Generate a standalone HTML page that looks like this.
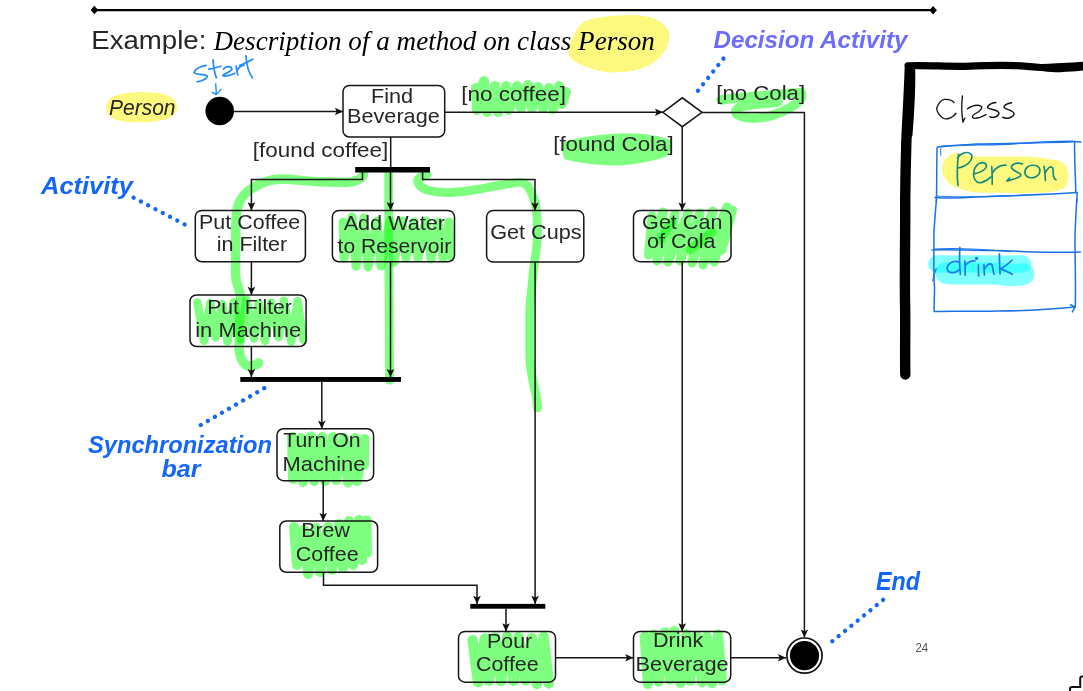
<!DOCTYPE html>
<html lang="en">
<head>
<meta charset="utf-8">
<title>Activity Diagram Example</title>
<style>
html,body{margin:0;padding:0;background:#fff;}
body{width:1083px;height:691px;overflow:hidden;font-family:"Liberation Sans",sans-serif;}
svg{display:block;position:absolute;left:0;top:0;will-change:transform;}
.t{font-family:"Liberation Sans",sans-serif;fill:#262626;}
.ti{font-family:"Liberation Sans",sans-serif;font-style:italic;fill:#262626;}
.ts{font-family:"Liberation Serif",serif;font-style:italic;fill:#000;}
.hw{font-family:"Liberation Sans",sans-serif;font-style:italic;font-weight:bold;}
.bx{fill:none;stroke:#161616;stroke-width:1.5;}
.ln{fill:none;stroke:#161616;stroke-width:1.5;stroke-linejoin:miter;}
.ah{fill:#111;stroke:none;}
.bar{fill:#000;}
.hl{fill:none;stroke:#00ff00;stroke-opacity:.5;stroke-linecap:round;stroke-linejoin:round;}
.dot{fill:none;stroke:#1466f5;stroke-linecap:round;}
.pen{fill:none;stroke-linecap:round;stroke-linejoin:round;}
</style>
</head>
<body>
<svg width="1083" height="691" viewBox="0 0 1083 691">
<path d="M568.2 52.7 C568.5 47 570.5 42 572.9 37.6 C575 32 577 28 580.4 24.5 C585 20.5 590 19 596.4 17.9 C608 16 620 15.2 634 15 C643 15.3 650 17 656.6 19.7 C663 23 667 27 668.8 32 C670 36.5 669.5 41 667.9 45.1 C665.5 51 661.5 56 656.6 60.2 C650 65.5 642 68.5 634 70.5 C626 72 619 72.4 611.5 72.4 C603 72 596 70.5 588.9 67.7 C582 65.5 577 63 572.9 60.2 C570 58 568.5 56 568.2 52.7Z" fill="#fdf97f"/>
<path d="M106.3 108 C105.5 97 118 92.5 140 92.3 C162 91.5 177 96 177.3 106.5 C177.5 117 165 122 142 122.3 C120 123 107 119.5 106.3 108Z" fill="#fdf97f"/>
<path class="hl" stroke-width="9.5" d="M363.5 174.5 C362 179 355 182.2 345 182.4 C337 182.4 329 182 321 181.8 C305 181.5 290 178.5 276.7 179.2 C270 180 265 181.5 260.5 183.8 C254 187 249 190 245.3 193.4 C241 198 238.5 203 237.2 208.6 C236 215 235.7 222 235.7 230 L235.5 274 C236 285 241 292 241 300 C240 312 239 330 239 349 C240 358 243 364 248 366 C252 367 256 365 258.5 363"/>
<path class="hl" stroke-width="8.8" d="M388.7 173 L388.9 260 L389.6 380.2"/>
<path class="hl" stroke-width="8.8" d="M427 174.5 C422 176 417.5 178 417.6 181 C418 185 422 188 426.6 189.8 C434 192 442 192.8 451.6 192.5 C461 192 470 190.8 479.3 189.1 C489 187.3 498 185.5 507 184.2 C512 183.3 517 182.2 520.8 182.4 C524 182.8 526 184.2 527.7 186.3 C530.5 190 532.5 194.5 534 198.8 C535.5 203.5 536.4 208 536.7 212.6 C537 218 537.2 225 537.4 232 C537.6 237 537.3 241 536.8 245 C536.2 252 535.2 258 534.4 263 C533.4 270 532.6 278 532 286 C531 296 530 303 529.7 310 L529.7 355 C530 370 533 382 535.5 393 C536.5 398 537.5 403 537.5 408"/>
<path class="hl" stroke-width="9" d="M343 222 L344 258 L352 217 L356 266 L364 218 L368 267 L377 221 L381 266 L390 221 L394 262 L402 221 L406 258 L414 222 L418 258 L426 221 L431 259 L438 222 L443 258 L449 222 L450 256"/>
<path class="hl" stroke-width="8.5" d="M197.4 302.5 L204.0 340.8 L210.2 303.1 L215.6 337.4 L222.2 304.0 L227.5 341.3 L234.0 301.9 L240.8 339.7 L246.4 299.9 L253.9 338.5 L258.8 303.2 L265.0 340.8 L271.2 302.5 L278.7 337.3 L283.8 300.7 L291.2 341.6 L297.6 301.1 L303.3 339.7"/>
<path class="hl" stroke-width="10" d="M476 88 L477 110 L484 81 L487 112 L495 86 L498 112 L506 86 L509 110 L517 86 L521 108 L528 85 L532 108 L538 87 L543 108 L549 88 L553 109 L559 86 L562 104 L566 92"/>
<path d="M563 142 C575 138 600 134 623 133.2 C645 133 660 136 670.4 139.6 C672 146 670 152 666.5 156.5 C650 162 630 165 617.5 165.5 C598 165.5 578 163 564.5 159 C562 153 562 147 563 142Z" fill="#80ff80"/>
<path class="hl" stroke-width="9.5" d="M721 100 C740 97 765 96 801 92.5 C805 100 790 110 770 116 C758 119 745 119 738 115 C732 111 738 107 747 105.5 C757 104 768 103 778 102"/>
<path class="hl" stroke-width="9" d="M652 216 L648.5 255 L663 212 L657 261 L675 214 L668 262 L688 213 L680 261 L700 213 L692 263 L713 211 L703 265 L727 207 L714 262 L732.5 210 L722 250"/>
<path class="hl" stroke-width="9" d="M660 240 L672 222 M690 250 L712 232"/>
<path class="hl" stroke-width="10" d="M292 437 L293 479 L301 438 L303 482 L311 436.5 L314 481 L322 437 L325 481 L333 437 L336 480 L344 438 L348 482.5 L355 438 L357 481 L364.5 439 L364 465"/>
<path class="hl" stroke-width="10" d="M294 527 L297 565 L304 530 L308 574 L316 528 L320 572 L328 527 L332 570 L339 524 L343 568 L349 521 L353 565 L359 520 L362 560 L366.5 520.5 L367 553"/>
<path class="hl" stroke-width="10.5" d="M472.7 640.1 L478.0 682.1 L485.0 638.4 L488.9 680.7 L495.1 637.6 L501.1 681.0 L507.1 636.6 L513.6 680.9 L518.4 637.2 L525.4 680.2 L531.8 638.3 L536.9 683.8 L543.6 636.6 L548.8 683.5"/>
<path class="hl" stroke-width="10" d="M644.6 636.5 L647.8 683.9 L653.9 634.6 L658.5 681.7 L664.6 632.2 L669.9 679.8 L674.3 631.1 L680.4 682.8 L686.5 634.1 L690.1 680.7 L696.7 635.7 L702.1 682.4 L706.8 636.8 L712.1 683.1 L718.1 634.4 L722.0 680.4"/>
<line x1="94.4" y1="10.05" x2="933" y2="10.05" stroke="#000" stroke-width="2.2"/>
<polygon points="90.7,10 94.4,5.8 98.1,10 94.4,14.2" fill="#000"/>
<polygon points="929.4,10.2 933.1,6 936.9,10.2 933.1,14.4" fill="#000"/>
<text x="91.23" y="49.2" font-size="25.4" class="t" text-anchor="start" textLength="115.19" lengthAdjust="spacingAndGlyphs">Example:</text>
<text x="213.5" y="49.5" font-size="26.4" class="ts" text-anchor="start" textLength="441.42" lengthAdjust="spacingAndGlyphs">Description of a method on class Person</text>
<circle cx="219.7" cy="111" r="14.3" fill="#000"/>
<circle cx="804.5" cy="655.6" r="17.6" fill="#fff" stroke="#111" stroke-width="1.7"/>
<circle cx="804.5" cy="655.6" r="14.6" fill="#000"/>
<rect x="343" y="85.4" width="101.69999999999999" height="51.599999999999994" rx="6.5" ry="6.5" class="bx"/>
<text x="370.92" y="102.9" font-size="20.8" class="t" text-anchor="start" textLength="42.18" lengthAdjust="spacingAndGlyphs">Find</text>
<text x="347.02" y="122.8" font-size="20.8" class="t" text-anchor="start" textLength="92.74" lengthAdjust="spacingAndGlyphs">Beverage</text>
<rect x="195.3" y="210.4" width="110.09999999999997" height="51.400000000000006" rx="6.5" ry="6.5" class="bx"/>
<text x="199.04" y="228.9" font-size="20.8" class="t" text-anchor="start" textLength="101.11" lengthAdjust="spacingAndGlyphs">Put Coffee</text>
<text x="216.76" y="251.4" font-size="20.8" class="t" text-anchor="start" textLength="70.5" lengthAdjust="spacingAndGlyphs">in Filter</text>
<rect x="332.4" y="210.4" width="122.10000000000002" height="51.400000000000006" rx="6.5" ry="6.5" class="bx"/>
<text x="343.66" y="229.7" font-size="20.8" class="t" text-anchor="start" textLength="101.4" lengthAdjust="spacingAndGlyphs">Add Water</text>
<text x="337.58" y="253.3" font-size="20.8" class="t" text-anchor="start" textLength="113.67" lengthAdjust="spacingAndGlyphs">to Reservoir</text>
<rect x="486.6" y="210.6" width="97.19999999999993" height="51.50000000000003" rx="6.5" ry="6.5" class="bx"/>
<text x="490.21" y="239.1" font-size="20.8" class="t" text-anchor="start" textLength="91.37" lengthAdjust="spacingAndGlyphs">Get Cups</text>
<rect x="633.5" y="210.5" width="97.5" height="51.19999999999999" rx="6.5" ry="6.5" class="bx"/>
<text x="642.12" y="228.5" font-size="20.8" class="t" text-anchor="start" textLength="80.28" lengthAdjust="spacingAndGlyphs">Get Can</text>
<text x="647.09" y="248.3" font-size="20.8" class="t" text-anchor="start" textLength="68.41" lengthAdjust="spacingAndGlyphs">of Cola</text>
<rect x="190" y="294.9" width="116.10000000000002" height="51.60000000000002" rx="6.5" ry="6.5" class="bx"/>
<text x="207.16" y="313.9" font-size="20.8" class="t" text-anchor="start" textLength="84.69" lengthAdjust="spacingAndGlyphs">Put Filter</text>
<text x="195.23" y="336.5" font-size="20.8" class="t" text-anchor="start" textLength="106.04" lengthAdjust="spacingAndGlyphs">in Machine</text>
<rect x="277" y="428.7" width="96.60000000000002" height="52.0" rx="6.5" ry="6.5" class="bx"/>
<text x="283.33" y="447.1" font-size="20.8" class="t" text-anchor="start" textLength="77.24" lengthAdjust="spacingAndGlyphs">Turn On</text>
<text x="282.6" y="470.5" font-size="20.8" class="t" text-anchor="start" textLength="82.77" lengthAdjust="spacingAndGlyphs">Machine</text>
<rect x="279.8" y="521" width="97.80000000000001" height="51.299999999999955" rx="6.5" ry="6.5" class="bx"/>
<text x="301.25" y="536.9" font-size="20.8" class="t" text-anchor="start" textLength="48.7" lengthAdjust="spacingAndGlyphs">Brew</text>
<text x="295.82" y="560.7" font-size="20.8" class="t" text-anchor="start" textLength="62.83" lengthAdjust="spacingAndGlyphs">Coffee</text>
<rect x="458.5" y="631.4" width="97.0" height="50.80000000000007" rx="6.5" ry="6.5" class="bx"/>
<text x="487.05" y="647.8" font-size="20.8" class="t" text-anchor="start" textLength="45.11" lengthAdjust="spacingAndGlyphs">Pour</text>
<text x="475.92" y="670.7" font-size="20.8" class="t" text-anchor="start" textLength="62.83" lengthAdjust="spacingAndGlyphs">Coffee</text>
<rect x="633.5" y="631.4" width="97.20000000000005" height="50.80000000000007" rx="6.5" ry="6.5" class="bx"/>
<text x="652.93" y="646.8" font-size="20.8" class="t" text-anchor="start" textLength="50.34" lengthAdjust="spacingAndGlyphs">Drink</text>
<text x="635.62" y="670.7" font-size="20.8" class="t" text-anchor="start" textLength="92.95" lengthAdjust="spacingAndGlyphs">Beverage</text>
<text x="461.3" y="101.3" font-size="20.8" class="t" text-anchor="start" textLength="104.7" lengthAdjust="spacingAndGlyphs">[no coffee]</text>
<text x="252.81" y="157.2" font-size="20.8" class="t" text-anchor="start" textLength="135.49" lengthAdjust="spacingAndGlyphs">[found coffee]</text>
<text x="553.21" y="150.7" font-size="20.8" class="t" text-anchor="start" textLength="120.49" lengthAdjust="spacingAndGlyphs">[found Cola]</text>
<text x="716.22" y="99.6" font-size="20.8" class="t" text-anchor="start" textLength="88.87" lengthAdjust="spacingAndGlyphs">[no Cola]</text>
<text x="108.95" y="114.7" font-size="21.4" class="ti" text-anchor="start" textLength="66.6" lengthAdjust="spacingAndGlyphs">Person</text>
<text x="915.4" y="651.8" font-size="12.6" class="t" style="fill:#555" textLength="12.8" lengthAdjust="spacingAndGlyphs">24</text>
<polygon class="bx" points="662.8,112.3 682.3,97.8 702,112.3 682.3,126.7" style="fill:#fff"/>
<rect class="bar" x="355.2" y="167" width="74.8" height="5.5"/>
<rect class="bar" x="240.3" y="377" width="160.7" height="4.9"/>
<rect class="bar" x="470.3" y="603.9" width="75" height="4.8"/>
<path class="ln" d="M234 111.5H343 M444.7 112.2H663 M702 112.4H804.4V637.5 M682.2 126.7V210.5 M682.2 261.7V631.4 M390.7 137V167 M390.5 172V210 M390.5 261.5V377 M362.5 172V179.6H251.4V210 M422.6 172V179.6H535V210 M251.4 261.8V294.9 M251.4 346.5V377 M321.8 382V428.5 M323.2 480.7V521 M323.5 572.3V585.3H477V603.9 M535.1 262V603.9 M506 608.5V631.4 M555.5 657.8H633 M730.7 657.8H786"/>
<polygon class="ah" points="343.0,111.5 334.9,107.7 336.7,111.5 334.9,115.3"/>
<polygon class="ah" points="663.0,112.2 654.9,108.4 656.7,112.2 654.9,116.0"/>
<polygon class="ah" points="804.4,637.6 800.6,629.5 804.4,631.3 808.2,629.5"/>
<polygon class="ah" points="682.2,210.5 678.4,202.4 682.2,204.2 686.0,202.4"/>
<polygon class="ah" points="682.2,631.4 678.4,623.3 682.2,625.1 686.0,623.3"/>
<polygon class="ah" points="390.5,210.4 386.7,202.3 390.5,204.1 394.3,202.3"/>
<polygon class="ah" points="390.5,377.0 386.7,368.9 390.5,370.7 394.3,368.9"/>
<polygon class="ah" points="251.4,210.4 247.6,202.3 251.4,204.1 255.2,202.3"/>
<polygon class="ah" points="535.0,210.6 531.2,202.5 535.0,204.3 538.8,202.5"/>
<polygon class="ah" points="251.4,294.9 247.6,286.8 251.4,288.6 255.2,286.8"/>
<polygon class="ah" points="251.4,377.0 247.6,368.9 251.4,370.7 255.2,368.9"/>
<polygon class="ah" points="321.8,428.7 318.0,420.6 321.8,422.4 325.6,420.6"/>
<polygon class="ah" points="323.2,521.0 319.4,512.9 323.2,514.7 327.0,512.9"/>
<polygon class="ah" points="477.0,603.9 473.2,595.8 477.0,597.6 480.8,595.8"/>
<polygon class="ah" points="535.1,603.9 531.3,595.8 535.1,597.6 538.9,595.8"/>
<polygon class="ah" points="506.0,631.4 502.2,623.3 506.0,625.1 509.8,623.3"/>
<polygon class="ah" points="633.3,657.8 625.2,654.0 627.0,657.8 625.2,661.6"/>
<polygon class="ah" points="786.0,657.8 777.9,654.0 779.7,657.8 777.9,661.6"/>
<text x="41" y="194.3" font-size="24" class="hw" fill="#1466f8" text-anchor="start" textLength="92" lengthAdjust="spacingAndGlyphs">Activity</text>
<text x="713.5" y="48" font-size="24" class="hw" fill="#6c6cfd" text-anchor="start" textLength="194" lengthAdjust="spacingAndGlyphs">Decision Activity</text>
<text x="88" y="453.1" font-size="24" class="hw" fill="#1466f8" text-anchor="start" textLength="184" lengthAdjust="spacingAndGlyphs">Synchronization</text>
<text x="161.5" y="477.3" font-size="24" class="hw" fill="#1466f8" text-anchor="start" textLength="39" lengthAdjust="spacingAndGlyphs">bar</text>
<text x="876" y="589.7" font-size="26.5" class="hw" fill="#1466f8" text-anchor="start" textLength="44" lengthAdjust="spacingAndGlyphs">End</text>
<path class="dot" stroke-width="4.3" stroke-dasharray="0.01 8.214" d="M133.6 197.7 L184.65 224.43"/>
<path class="dot" stroke-width="4.3" stroke-dasharray="0.01 8.177" d="M723.4 58.6 L697.97 90.73"/>
<path class="dot" stroke-width="4.3" stroke-dasharray="0.01 8.135" d="M264.2 388.2 L200.74 425.04"/>
<path class="dot" stroke-width="4.3" stroke-dasharray="0.01 8.174" d="M883.1 599.9 L832.25 641.24"/>
<g transform="translate(170 50) scale(0.11583)" class="pen" stroke="#218cfa" stroke-width="15"><path d="M312 132C260 140 215 165 208 195C215 215 300 205 322 225C320 250 270 270 235 275"/><path d="M372 85C375 140 385 200 400 240M335 165C370 160 410 150 440 140"/><path d="M462 165C480 140 530 135 535 165C520 195 470 200 455 220C470 235 530 215 560 200"/><path d="M570 140C575 170 580 200 585 215M578 175C590 150 620 135 640 130"/><path d="M655 50C660 110 680 200 712 240M600 135C640 115 690 95 715 80"/><path d="M395 290L400 385M365 365L400 385L440 340" stroke-width="12"/></g>
<path class="pen" stroke="#000" stroke-width="10.4" d="M905.3 374.5 C904.8 350 905.6 325 905 300 C904.6 270 905.4 235 905.2 200 C905.4 180 905.8 160 906.3 143 C907.3 118 909 95 909.8 69"/>
<path class="pen" stroke="#000" stroke-width="5" d="M912.8 71 C913 90 912 110 910 135"/>
<path class="pen" stroke="#000" stroke-width="7.2" d="M908 65.8 C925 65 945 66.6 965 66.3 C985 65.5 1000 65 1015 65.6 C1030 66.2 1042 67.8 1052 68.5 C1062 69 1072 67.8 1090 66.3"/>
<path class="pen" stroke="#000" stroke-width="4" d="M1042 66 C1055 65.6 1070 64.6 1090 63.4"/>
<path transform="translate(935 140) scale(0.13665)" d="M50 215 C55 150 100 100 150 95 C200 100 250 118 300 120 C430 122 570 118 700 122 C770 128 840 140 900 150 C950 165 978 210 975 260 C972 310 960 340 950 350 C900 375 850 385 800 385 C630 390 460 388 300 385 C250 380 200 360 150 345 C100 320 55 280 50 215Z" fill="#fdf97f"/>
<path class="pen" stroke="#00ffff" stroke-opacity=".5" stroke-width="17.5" d="M937 264 C960 263.5 1000 264.5 1022.5 264"/>
<path class="pen" stroke="#00ffff" stroke-opacity=".5" stroke-width="22" d="M946.5 273 C965 274.5 990 272.5 1005 274.5 C1012 275.5 1018 275 1023.5 274"/>
<g transform="translate(935 140) scale(0.13665)" class="pen" stroke="#1a73e8" stroke-width="11"><path d="M20 52 C110 40 200 36 300 30 C430 26 570 28 700 20 C800 14 900 12 1000 10 C1030 10 1050 14 1068 14"/><path d="M30 48 C200 30 400 40 560 30 C700 18 850 22 1010 14" stroke-width="8"/><path d="M15 55 C12 150 14 300 10 454"/><path d="M42 62 C40 80 42 95 42 112" stroke-width="7"/><path d="M1022 14 C1018 100 1028 250 1030 385 M1040 385 L1038 454"/><path d="M0 420 C100 430 200 425 300 418 C420 412 520 412 640 405 C780 400 900 395 1040 385"/><path d="M10 410 C200 425 500 405 800 400" stroke-width="7"/></g>
<g transform="translate(920 240) scale(0.15051)" class="pen" stroke="#1a73e8" stroke-width="10"><path d="M109 -268 C104 -200 96 -120 92 -40 C94 80 88 200 96 300 C98 360 92 420 94 475 C250 468 380 478 520 472 C700 470 860 462 1028 445"/><path d="M1041 -268 C1038 -200 1033 -120 1030 -40 C1028 80 1036 250 1032 445 M1000 430 L1030 444 L1012 478" /><path d="M80 66 C200 60 350 72 500 70 C700 75 880 88 1065 80"/><path d="M95 60 C250 50 420 62 600 78" stroke-width="7"/><path d="M108 190 C98 215 90 245 84 272" stroke-width="8"/></g>
<g transform="translate(925 85) scale(0.1108)" class="pen" stroke="#111" stroke-width="12"><path d="M262 160 C250 140 215 128 175 130 C150 135 120 170 105 210 C105 245 140 285 165 300 C185 312 225 305 250 285 C262 275 272 265 280 255"/><path d="M338 98 C330 160 328 240 342 335 L360 298"/><path d="M383 215 C420 190 470 175 505 190 C525 205 500 235 460 255 C430 270 415 290 440 300 C480 305 520 285 550 268"/><path d="M640 158 C600 160 560 185 565 205 C590 225 660 220 668 255 C660 290 610 300 585 285"/><path d="M782 160 C740 165 705 185 715 205 C740 225 800 225 805 262 C790 300 730 310 700 290"/></g>
<g transform="translate(935 140) scale(0.13665)" class="pen" stroke="#138a7c" stroke-width="12"><path d="M172 105 C162 180 160 260 168 332 M165 130 C190 95 245 75 268 110 C280 150 230 195 165 205"/><path d="M285 248 C330 240 385 215 375 180 C355 150 300 170 285 225 C275 280 300 325 345 310 C375 300 395 285 410 270"/><path d="M415 195 C418 240 420 290 418 325 M420 240 C440 205 480 180 520 185"/><path d="M640 175 C600 160 555 175 560 205 C580 235 640 240 625 265 C600 285 555 290 525 300 L545 278"/><path d="M720 185 C680 180 650 215 660 250 C675 285 730 285 760 250 C780 215 760 185 720 185"/><path d="M798 192 C805 230 805 265 808 295 M805 245 C820 205 850 185 862 205 C870 240 855 280 885 290"/></g>
<g transform="translate(920 240) scale(0.15051)" class="pen" stroke="#1c78e8" stroke-width="11"><path d="M262 150 C230 130 185 150 180 190 C185 225 240 225 262 195 M265 48 C262 110 262 170 268 228"/><path d="M298 140 C300 175 300 210 300 235 M300 172 C315 147 345 135 365 140"/><path d="M388 165 C388 190 388 215 390 238"/><circle cx="376" cy="122" r="6" fill="#1c78e8"/><path d="M425 165 C425 190 426 215 428 232 M427 198 C440 165 465 150 478 165 C485 185 485 210 492 228"/><path d="M528 92 C527 140 529 185 532 226 M612 133 C585 160 560 180 535 192 C560 200 590 215 613 228"/></g>
<path d="M1070 693 V689 Q1070 686.9 1072 686.9 H1080.2 V678.6 Q1080.2 676.6 1082.2 676.6 H1085" fill="none" stroke="#111" stroke-width="2"/>
</svg>
</body>
</html>
